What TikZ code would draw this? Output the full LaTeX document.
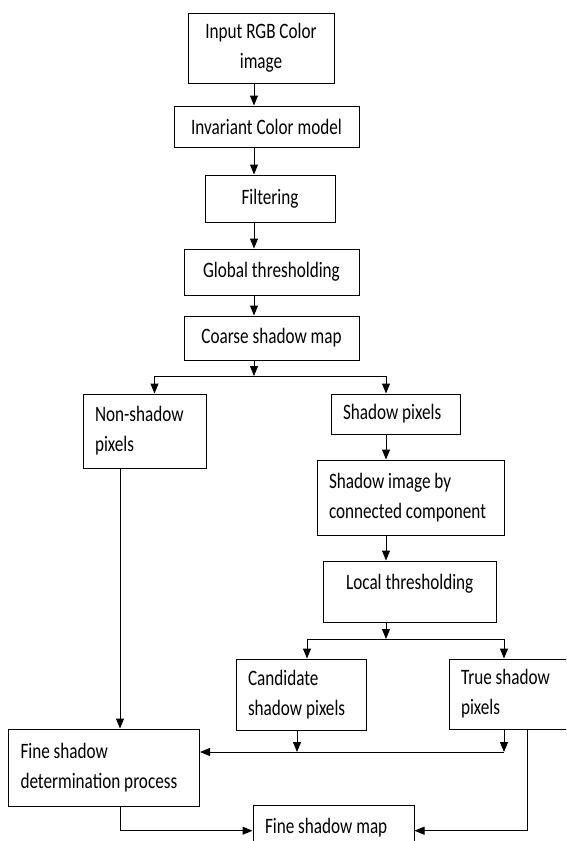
\documentclass[tikz,border=0pt]{standalone}
\usepackage{fontspec}
\setmainfont{Carlito}[FakeStretch=0.78]
\usetikzlibrary{arrows.meta}
\usetikzlibrary{positioning}

\begin{document}
\begin{tikzpicture}[x=1pt,y=-1pt,
  box/.style={draw, line width=1pt, inner xsep=12pt, inner ysep=3pt,
    font=\fontsize{22}{30}\selectfont},
  arr/.style={line width=1pt, -{Triangle[length=10pt,width=8pt]}}]
 \useasboundingbox (0,0) rectangle (566,841);
 \clip (0,0) rectangle (566,841);

 % main column
 \node[box, minimum width=146pt, minimum height=70pt, align=center] (input) at (261,48) {Input RGB Color\\image};
 \node[box, minimum width=185pt, minimum height=41pt] (invariant) at (266.5,126.5) {Invariant Color model};
 \node[box, minimum width=130pt, minimum height=47pt] (filter) at (270,198.5) {Filtering};
 \node[box, minimum width=175pt, minimum height=46pt] (global) at (271.5,272) {Global thresholding};
 \node[box, minimum width=175pt, minimum height=44pt] (coarse) at (271.5,338) {Coarse shadow map};

 % branches
 \node[box, text width=99pt, minimum height=74pt, align=flush left] (nonshadow) at (144.5,431) {Non-shadow\\pixels};
 \node[box, text width=105pt, minimum height=40pt, align=flush left] (shadowpix) at (395.5,414) {Shadow pixels};
 \node[box, text width=163pt, minimum height=75pt, align=flush left] (shadowimg) at (410.5,497.5) {Shadow image by\\connected component};
 \node[box, minimum width=172.5pt, minimum height=61pt, text height=25pt, text depth=30pt] (local) at (409.75,591.5) {Local thresholding};
 \node[box, text width=106pt, minimum height=71pt, align=flush left] (candidate) at (301,694.5) {Candidate\\shadow pixels};
 \node[box, text width=103pt, minimum height=70pt, align=flush left] (trueshadow) at (512.5,694) {True shadow\\pixels};
 \node[box, text width=167pt, minimum height=77pt, align=flush left] (finedet) at (104,767.5) {Fine shadow\\determination process};
 \node[box, text width=137pt, minimum height=50pt, align=flush left, text height=25pt, text depth=19pt] (finemap) at (333.5,830.7) {Fine shadow map};

 \coordinate (spine) at (254,0);
 \coordinate (lcol) at (154.5,0);
 \coordinate (rcol) at (386,0);
 \coordinate (nscol) at (120,0);
 \coordinate (ccol) at (307,0);
 \coordinate (mcol) at (297,0);
 \coordinate (tcol) at (527,0);
 \coordinate (split) at (254,376);
 \coordinate (split2) at (386,639);
 \coordinate (merge) at (504,752);

 \draw[arr] (input.south -| spine) -- (invariant.north -| spine);
 \draw[arr] (invariant.south -| spine) -- (filter.north -| spine);
 \draw[arr] (filter.south -| spine) -- (global.north -| spine);
 \draw[arr] (global.south -| spine) -- (coarse.north -| spine);
 \draw[arr] (coarse.south -| spine) -- (split);
 \draw[arr] (split) -| (nonshadow.north -| lcol);
 \draw[arr] (split) -| (shadowpix.north -| rcol);

 \draw[arr] (shadowpix.south -| rcol) -- (shadowimg.north -| rcol);
 \draw[arr] (shadowimg.south -| rcol) -- (local.north -| rcol);
 \draw[arr] (local.south -| rcol) -- (split2);
 \draw[arr] (split2) -| (candidate.north -| ccol);
 \draw[arr] (split2) -| (trueshadow.north -| merge);

 \draw[arr] (nonshadow.south -| nscol) -- (finedet.north -| nscol);
 \draw[arr] (candidate.south -| mcol) -- (merge -| mcol);
 \draw[arr] (trueshadow.south -| merge) -- (merge);
 \draw[arr] (merge) -- (finedet.east |- merge);
 \draw[arr] (finedet.south -| nscol) |- (finemap.west);
 \draw[arr] (trueshadow.south -| tcol) |- (finemap.east);
\end{tikzpicture}
\end{document}
